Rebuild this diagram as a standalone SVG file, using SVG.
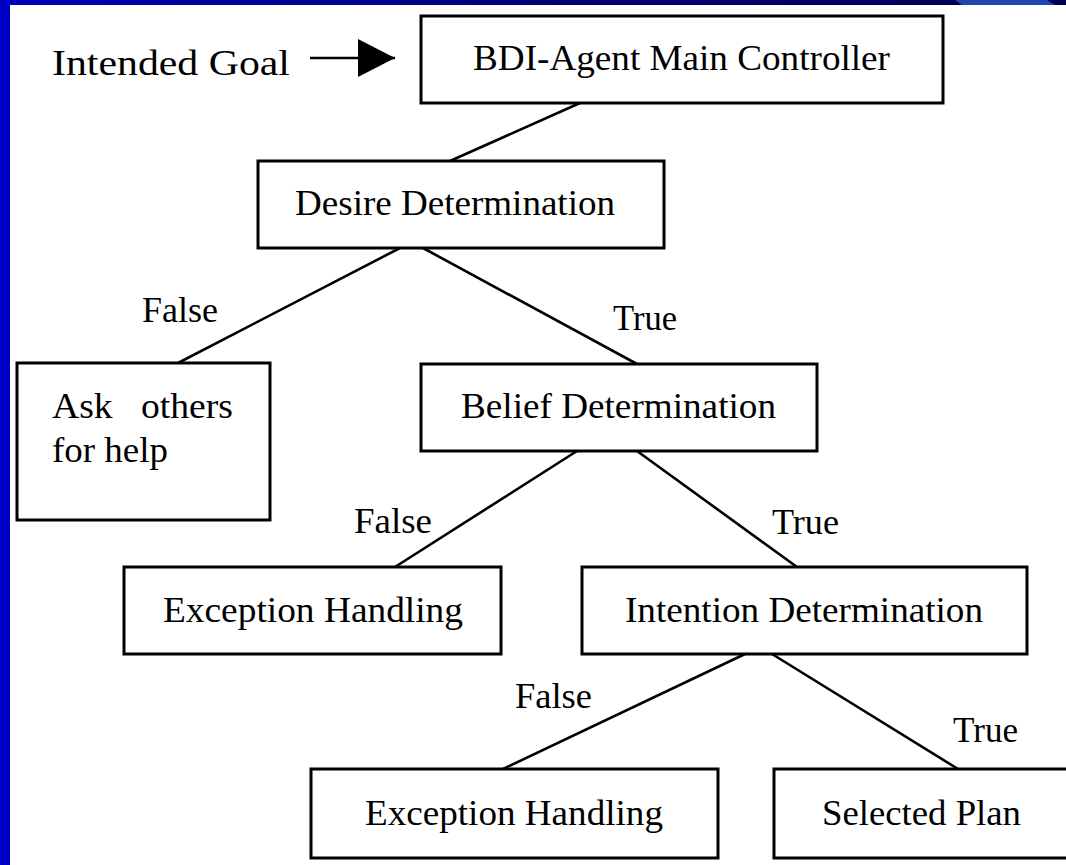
<svg xmlns="http://www.w3.org/2000/svg" width="1066" height="865" viewBox="0 0 1066 865">
<defs>
<linearGradient id="topband" x1="0" y1="0" x2="1" y2="0">
<stop offset="0" stop-color="#0000B8"/>
<stop offset="0.5" stop-color="#000078"/>
<stop offset="1" stop-color="#000050"/>
</linearGradient>
<marker id="arrow" markerUnits="userSpaceOnUse" markerWidth="40" markerHeight="40" refX="37" refY="19" orient="auto">
<polygon points="0,0 37,19 0,38" fill="#000"/>
</marker>
</defs>
<style>
.box{fill:#fff;stroke:#000;stroke-width:3}
.lbl{font-family:"Liberation Serif","Times New Roman",serif;font-size:36px;fill:#000}
.edge{font-family:"Liberation Serif","Times New Roman",serif;font-size:36px;fill:#000}
.conn line{stroke:#000;stroke-width:2.6}
</style>
<rect x="0" y="0" width="1066" height="865" fill="#fff"/>
<rect x="0" y="0" width="1066" height="5" fill="url(#topband)"/>
<polygon points="955,0 1047,0 1055,5 962,5" fill="#2244B0"/>
<rect x="0" y="0" width="10" height="865" fill="#0000C4"/>

<text class="lbl" x="52" y="75" font-size="41" textLength="238" lengthAdjust="spacingAndGlyphs">Intended Goal</text>

<g id="conn" class="conn">
<line x1="310" y1="58" x2="395" y2="58" stroke-width="4" marker-end="url(#arrow)"/>
<line x1="580" y1="103" x2="450" y2="161"/>
<line x1="400" y1="248" x2="178" y2="363"/>
<line x1="423" y1="248" x2="637" y2="364"/>
<line x1="577" y1="451" x2="395" y2="567"/>
<line x1="637" y1="451" x2="797" y2="567"/>
<line x1="745" y1="654" x2="503" y2="769"/>
<line x1="772" y1="654" x2="958" y2="769"/>
<text class="edge" x="142" y="322" textLength="76" lengthAdjust="spacingAndGlyphs">False</text>
<text class="edge" x="613" y="330" textLength="64" lengthAdjust="spacingAndGlyphs">True</text>
<text class="edge" x="354" y="533" textLength="78" lengthAdjust="spacingAndGlyphs">False</text>
<text class="edge" x="772" y="534" textLength="67" lengthAdjust="spacingAndGlyphs">True</text>
<text class="edge" x="515" y="708" textLength="77" lengthAdjust="spacingAndGlyphs">False</text>
<text class="edge" x="953" y="742" textLength="65" lengthAdjust="spacingAndGlyphs">True</text>
</g>

<g id="bdi">
<rect class="box" x="421" y="16" width="522" height="87"/>
<text class="lbl" x="473" y="70" textLength="417" lengthAdjust="spacingAndGlyphs">BDI-Agent Main Controller</text>
</g>
<g id="desire">
<rect class="box" x="258" y="161" width="406" height="87"/>
<text class="lbl" x="295" y="215" textLength="320" lengthAdjust="spacingAndGlyphs">Desire Determination</text>
</g>
<g id="ask">
<rect class="box" x="17" y="363" width="253" height="157"/>
<text class="lbl" x="52" y="418" xml:space="preserve" textLength="181" lengthAdjust="spacingAndGlyphs">Ask   others</text>
<text class="lbl" x="52" y="462" textLength="116" lengthAdjust="spacingAndGlyphs">for help</text>
</g>
<g id="belief">
<rect class="box" x="421" y="364" width="396" height="87"/>
<text class="lbl" x="461" y="418" textLength="315" lengthAdjust="spacingAndGlyphs">Belief Determination</text>
</g>
<g id="exception1">
<rect class="box" x="124" y="567" width="377" height="87"/>
<text class="lbl" x="163" y="622" textLength="300" lengthAdjust="spacingAndGlyphs">Exception Handling</text>
</g>
<g id="intention">
<rect class="box" x="582" y="567" width="445" height="87"/>
<text class="lbl" x="625" y="622" textLength="358" lengthAdjust="spacingAndGlyphs">Intention Determination</text>
</g>
<g id="exception2">
<rect class="box" x="311" y="769" width="407" height="89"/>
<text class="lbl" x="365" y="825" textLength="298" lengthAdjust="spacingAndGlyphs">Exception Handling</text>
</g>
<g id="selected">
<rect class="box" x="774" y="769" width="310" height="89"/>
<text class="lbl" x="822" y="825" textLength="199" lengthAdjust="spacingAndGlyphs">Selected Plan</text>
</g>
</svg>
